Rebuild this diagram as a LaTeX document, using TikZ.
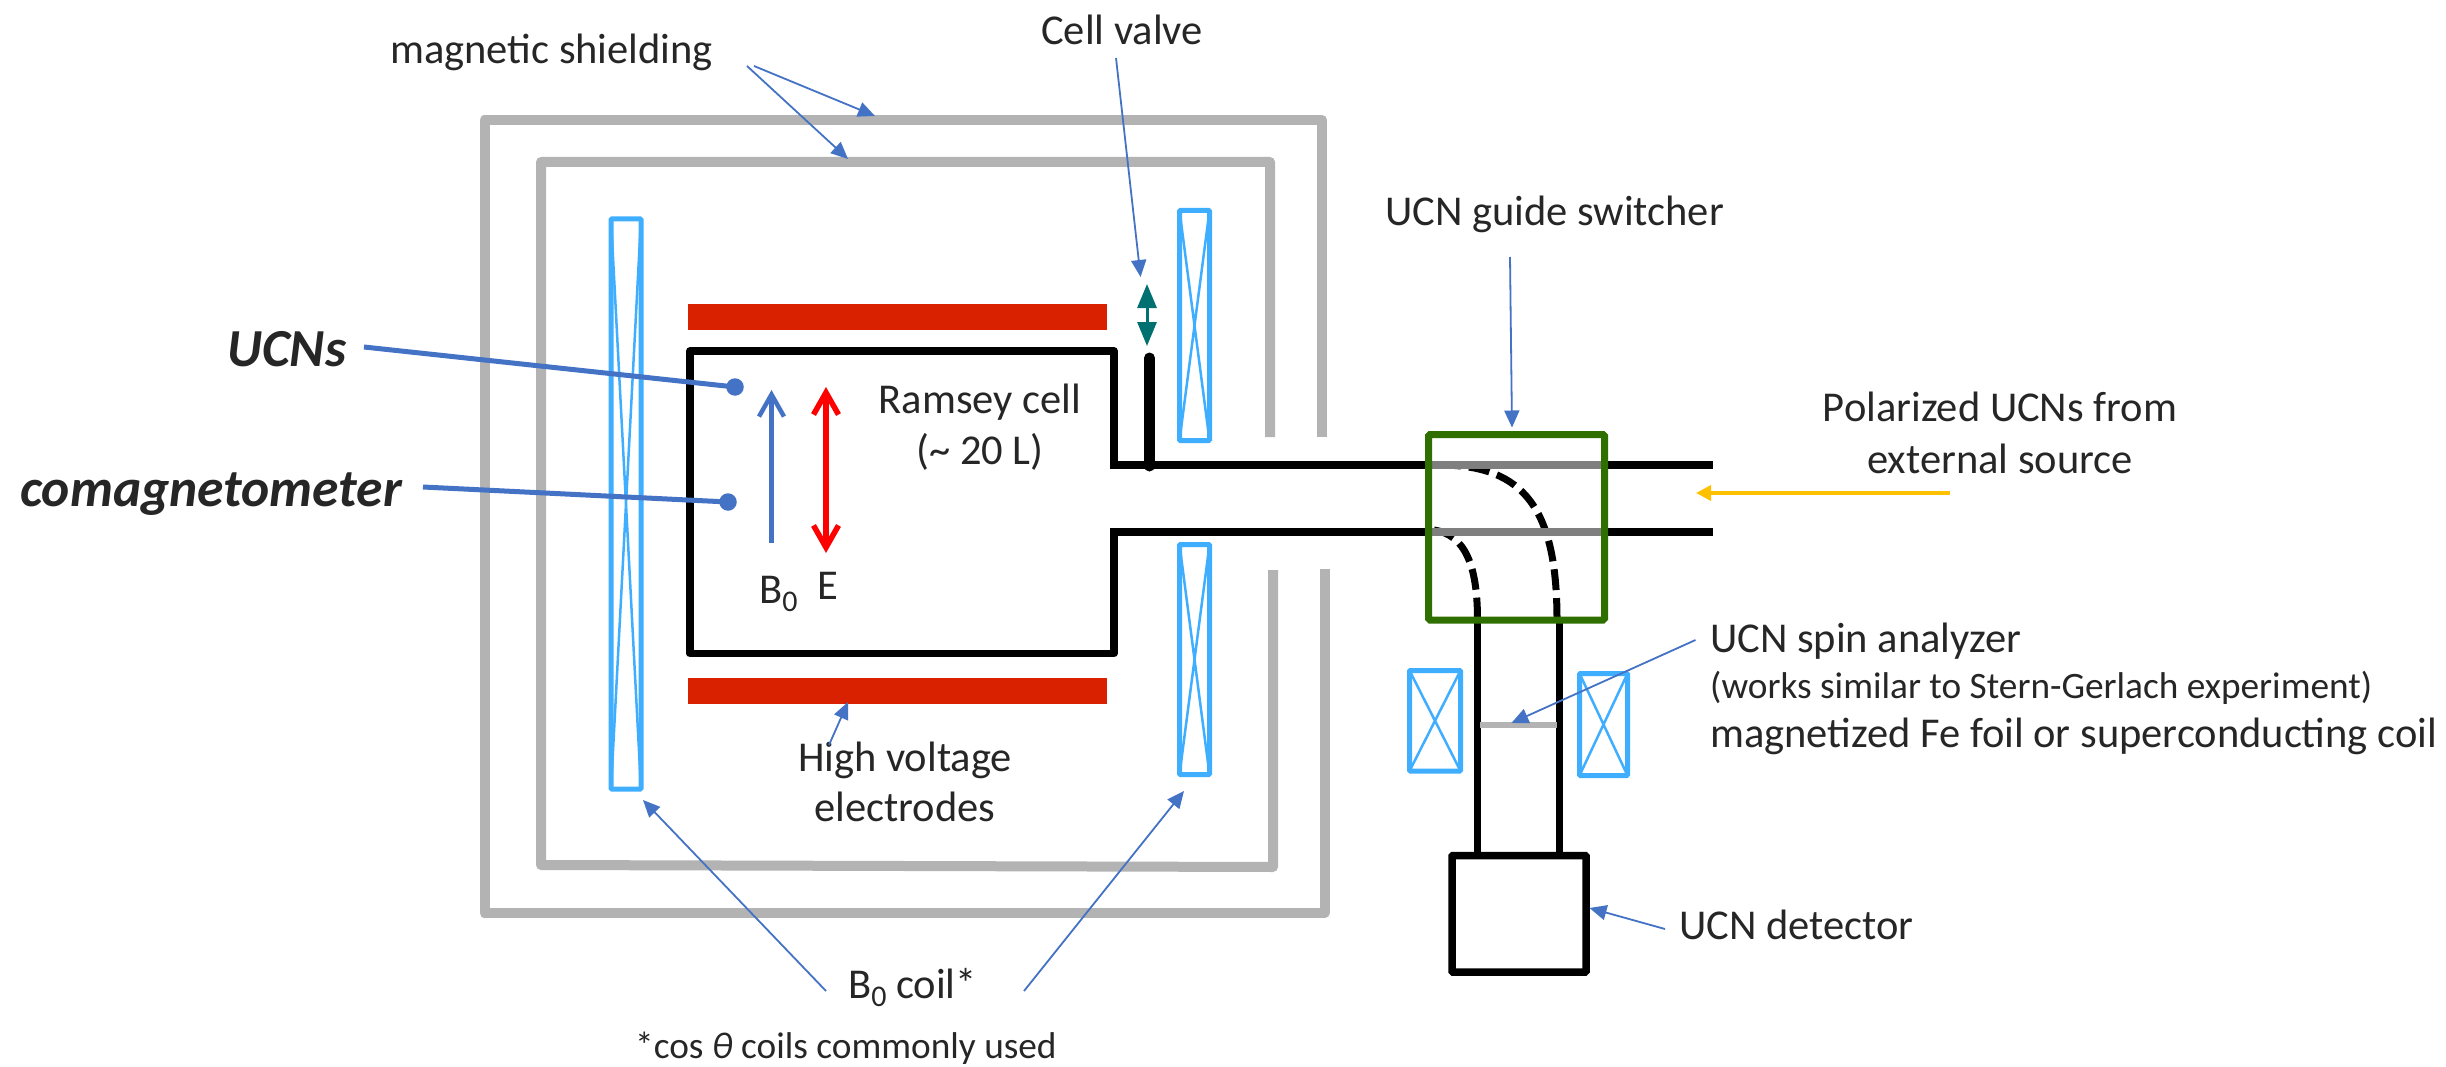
\documentclass[tikz,border=0pt]{standalone}
\usepackage{fontspec}
\setmainfont{Carlito}
\usetikzlibrary{arrows.meta}
\definecolor{shield}{HTML}{B3B3B3}
\definecolor{coilblue}{HTML}{3FAEFF}
\definecolor{elecred}{HTML}{D92100}
\definecolor{officeblue}{HTML}{4472C4}
\definecolor{gswitch}{HTML}{2E6F00}
\definecolor{greyguide}{HTML}{7F7F7F}
\definecolor{tealv}{HTML}{007070}
\definecolor{ink}{HTML}{262626}
\definecolor{amber}{HTML}{FFC000}
\newcommand{\szero}{\raisebox{-8pt}{\fontsize{30}{30}\selectfont 0}}
\tikzset{
  lab/.style={inner sep=0pt,text=ink,font=\fontsize{42.5}{48}\selectfont},
  labsmall/.style={inner sep=0pt,text=ink,font=\fontsize{37.3}{40}\selectfont},
  labbig/.style={inner sep=0pt,text=ink,font=\fontsize{53.5}{60}\selectfont\bfseries\itshape},
  shieldline/.style={draw=shield,line width=10pt,line join=round},
  wall/.style={draw=black,line width=7.5pt,line join=round},
  coilbox/.style={draw=coilblue,line width=5pt,rectangle,inner sep=0pt,outer sep=0pt,rounded corners=1pt},
  coilx/.style={draw=coilblue,line width=2.5pt},
  electrode/.style={fill=elecred,rectangle,inner sep=0pt,outer sep=0pt,minimum width=419pt,minimum height=26pt},
  leader/.style={draw=officeblue,line width=1.8pt,-{Triangle[length=17pt,width=15pt]}},
  pointer/.style={draw=officeblue,line width=5pt},
  dotmark/.style={circle,fill=officeblue,inner sep=0pt,minimum size=17.5pt,outer sep=0pt},
}
\newcommand{\coil}[5]{%
  \node[coilbox,anchor=north west,minimum width=#4pt-#2pt,minimum height=#5pt-#3pt] (#1) at (#2,#3) {};
  \draw[coilx] (#1.north west) -- (#1.south east) (#1.north east) -- (#1.south west);
}
\begin{document}
\begin{tikzpicture}[x=1pt,y=-1pt]
\useasboundingbox (0,0) rectangle (2446,1067);
\fill[white] (0,0) rectangle (2446,1067);

% shields
\coordinate (os1) at (1322,437);
\coordinate (os2) at (1322,120);
\coordinate (os3) at (484.5,120);
\coordinate (os4) at (484.5,913);
\coordinate (os5) at (1324.5,913);
\coordinate (os6) at (1324.5,569);
\draw[shieldline] (os1) -- (os2) -- (os3) -- (os4) -- (os5) -- (os6);
\coordinate (is1) at (1270,437);
\coordinate (is2) at (1270,162);
\coordinate (is3) at (541,162);
\coordinate (is4) at (541,865);
\coordinate (is5) at (1273,867);
\coordinate (is6) at (1273,570);
\draw[shieldline] (is1) -- (is2) -- (is3) -- (is4) -- (is5) -- (is6);

% coils
\coil{coilL}{611}{219}{641}{789}
\coil{coilRt}{1179.5}{210.5}{1209.5}{440.5}
\coil{coilRb}{1179.5}{544.5}{1209.5}{774.5}
\coil{coilSl}{1409.5}{670.5}{1460.5}{771}
\coil{coilSr}{1579.5}{673.5}{1627.5}{775.5}

% electrodes
\node[electrode,anchor=north west] (hvtop) at (688,304) {};
\node[electrode,anchor=north west] (hvbot) at (688,678) {};

% Ramsey cell and guides
\coordinate (c1) at (1114,465);
\coordinate (c2) at (1114,351);
\coordinate (c3) at (690,351);
\coordinate (c4) at (690,653.5);
\coordinate (c5) at (1114,653.5);
\coordinate (c6) at (1114,532);
\draw[wall] (c1) -- (c2) -- (c3) -- (c4) -- (c5) -- (c6);
\coordinate (t1l) at (1110,465);
\coordinate (t1r) at (1713,465);
\coordinate (t2l) at (1110,532);
\coordinate (t2r) at (1713,532);
\draw[wall] (t1l) -- (t1r);
\draw[wall] (t2l) -- (t2r);

% valve
\coordinate (v1) at (1149.5,358);
\coordinate (v2) at (1149.5,466);
\draw[black,line width=11pt,line cap=round] (v1) -- (v2);
\coordinate (va) at (1147,284);
\coordinate (vb) at (1147,346);
\draw[tealv,line width=3pt,{Triangle[length=24pt,width=19pt]}-{Triangle[length=24pt,width=19pt]}] (va) -- (vb);

% switcher curves
\coordinate (d1a) at (1440,465);
\coordinate (d1b) at (1557,620);
\coordinate (d2a) at (1434,530);
\coordinate (d2b) at (1477.5,620);
\draw[black,line width=7pt,dash pattern=on 21pt off 8pt] (d1a) .. controls (1525,465) and (1557,510) .. (d1b);
\draw[black,line width=7pt,dash pattern=on 21pt off 8pt] (d2a) .. controls (1465,535) and (1477.5,565) .. (d2b);
\coordinate (g1l) at (1430,465);
\coordinate (g1r) at (1603,465);
\coordinate (g2l) at (1430,532);
\coordinate (g2r) at (1603,532);
\draw[greyguide,line width=7.5pt] (g1l) -- (g1r);
\draw[greyguide,line width=7.5pt] (g2l) -- (g2r);

% lower guide and detector
\node[rectangle,draw=black,line width=7.5pt,inner sep=0pt,outer sep=0pt,anchor=north west,minimum width=134pt,minimum height=116.5pt,rounded corners=1pt] (det) at (1452,855.5) {};
\coordinate (l1) at (1477.5,620);
\coordinate (l2) at (1477.5,855);
\coordinate (r1) at (1559.5,620);
\coordinate (r2) at (1559.5,855);
\draw[wall] (l1) -- (l2);
\draw[wall] (r1) -- (r2);
\node[rectangle,draw=gswitch,line width=7pt,inner sep=0pt,outer sep=0pt,anchor=north west,minimum width=176pt,minimum height=185.5pt,rounded corners=1.5pt] (sw) at (1428.5,434.5) {};
\coordinate (f1) at (1479.5,725);
\coordinate (f2) at (1557,725);
\draw[shield,line width=6pt] (f1) -- (f2);

% field arrows
\coordinate (b1) at (771.5,543);
\coordinate (b2) at (771.5,390);
\draw[officeblue,line width=4.5pt,-{Straight Barb[length=22pt,width=25pt]}] (b1) -- (b2);
\coordinate (e1) at (826,387);
\coordinate (e2) at (826,553);
\draw[red,line width=5.5pt,{Straight Barb[length=22pt,width=25pt]}-{Straight Barb[length=22pt,width=25pt]}] (e1) -- (e2);

% UCN and comagnetometer pointers
\node[dotmark] (dotU) at (735,387) {};
\node[dotmark] (dotC) at (728,502) {};
\coordinate (pU) at (364,347);
\coordinate (pC) at (423,487);
\draw[pointer] (pU) -- (dotU.center);
\draw[pointer] (pC) -- (dotC.center);
\node[labbig,anchor=base west] (tU) at (227,366) {UCNs};
\node[labbig,anchor=base west] (tC) at (20,506) {comagnetometer};

% labels
\node[lab,anchor=base west] (tS) at (390,64) {magnetic shielding};
\node[lab,anchor=base] (tV) at (1122,45) {Cell valve};
\node[lab,anchor=base west] (tG) at (1385,226) {UCN guide switcher};
\node[lab,anchor=base] (tP1) at (2000,421) {Polarized UCNs from};
\node[lab,anchor=base] (tP2) at (2000,473) {external source};
\node[lab,anchor=base] (tR1) at (980,413) {Ramsey cell};
\node[lab,anchor=base] (tR2) at (980,464) {(\~{} 20 L)};
\node[lab,anchor=base west] (tB) at (759,603) {B\szero};
\node[lab,anchor=base west] (tE) at (817,599) {E};
\node[lab,anchor=base] (tH1) at (905,771) {High voltage};
\node[lab,anchor=base] (tH2) at (905,821) {electrodes};
\node[lab,anchor=base west] (tC0) at (848,998) {B\szero{} coil*};
\node[labsmall,anchor=base west] (tCos) at (635,1058) {*cos {\itshape θ} coils commonly used};
\node[lab,anchor=base west] (tA1) at (1710,652) {UCN spin analyzer};
\node[labsmall,anchor=base west] (tA2) at (1710,698) {(works similar to Stern-Gerlach experiment)};
\node[lab,anchor=base west] (tA3) at (1710,747) {magnetized Fe foil or superconducting coil};
\node[lab,anchor=base west] (tD) at (1679,939) {UCN detector};

% leaders
\coordinate (ls1) at (754,66);  \coordinate (lst1) at (875,116);
\coordinate (ls2) at (747,66);  \coordinate (lst2) at (848,159);
\draw[leader] (ls1) -- (lst1);
\draw[leader] (ls2) -- (lst2);
\coordinate (lv) at (1116,58);  \coordinate (lvt) at (1140.6,277);
\draw[leader] (lv) -- (lvt);
\coordinate (lg) at (1510,257); \coordinate (lgt) at (1512,427.5);
\draw[leader] (lg) -- (lgt);
\coordinate (la) at (1695.5,640); \coordinate (lat) at (1511.4,723);
\draw[leader] (la) -- (lat);
\coordinate (lh) at (829,745);  \coordinate (lht) at (848,702);
\draw[leader] (lh) -- (lht);
\coordinate (lb1) at (826,991); \coordinate (lb1t) at (643,800);
\draw[leader] (lb1) -- (lb1t);
\coordinate (lb2) at (1024,991); \coordinate (lb2t) at (1184,791);
\draw[leader] (lb2) -- (lb2t);
\coordinate (ld) at (1665,929); \coordinate (ldt) at (1589.5,908);
\draw[leader] (ld) -- (ldt);
\coordinate (py) at (1950,493); \coordinate (pyt) at (1696,493);
\draw[amber,line width=3.5pt,-{Triangle[length=15pt,width=15pt]}] (py) -- (pyt);
\end{tikzpicture}
\end{document}
